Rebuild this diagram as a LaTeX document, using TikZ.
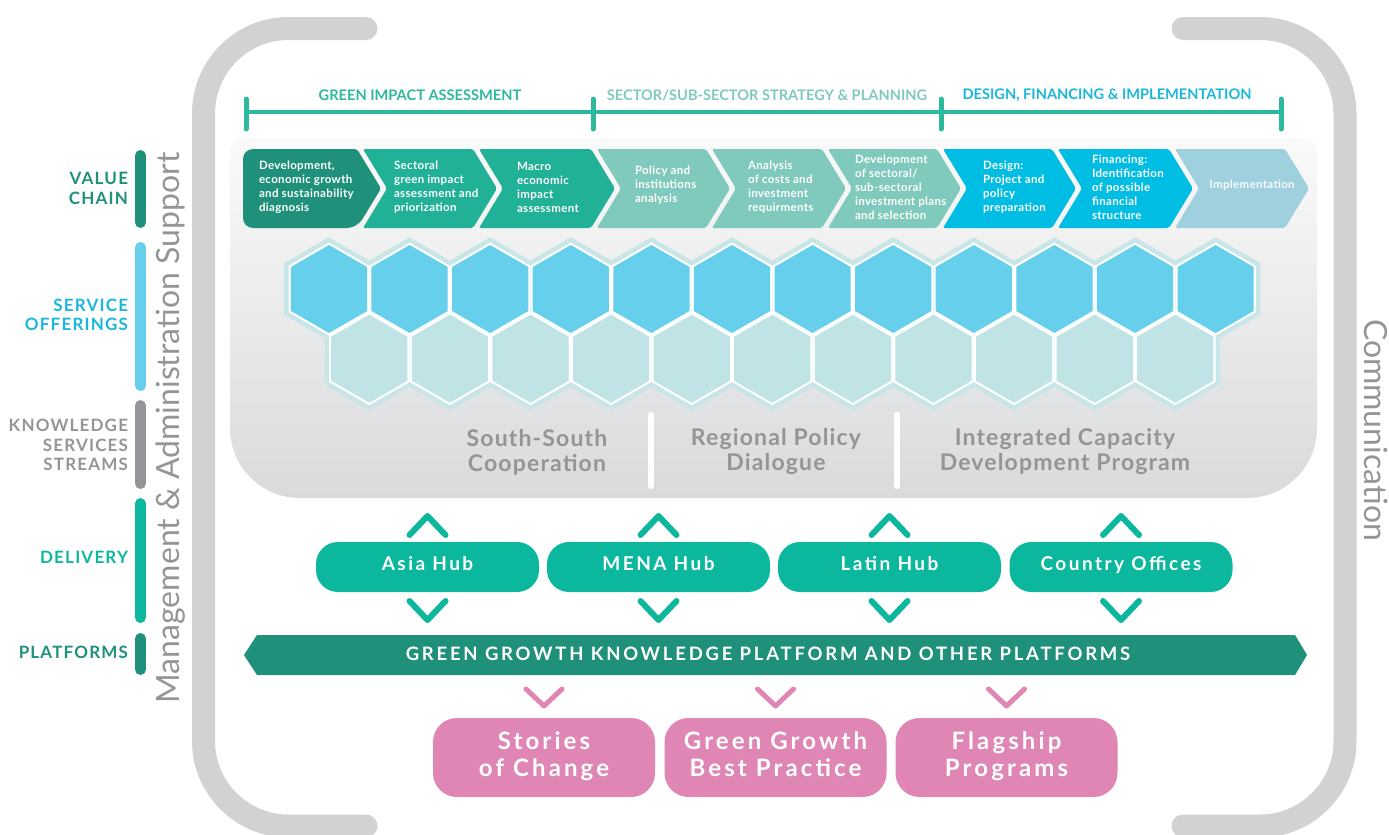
\documentclass[tikz,border=0pt]{standalone}
\usepackage{fontspec}
\setmainfont{Lato}
\usetikzlibrary{calc}

% palette
\definecolor{darkteal}{HTML}{1F917B}
\definecolor{teal}{HTML}{20B196}
\definecolor{phaseteal}{HTML}{2DB99D}
\definecolor{lightteal}{HTML}{80CABD}
\definecolor{cyan}{HTML}{00BDE3}
\definecolor{labelcyan}{HTML}{1AB7DB}
\definecolor{barcyan}{HTML}{66CFEC}
\definecolor{paleblue}{HTML}{9FD0DE}
\definecolor{hexcyan}{HTML}{66CFEC}
\definecolor{hexpale}{HTML}{C0E3E5}
\definecolor{hexhalo}{HTML}{C8E5E8}
\definecolor{delivery}{HTML}{0BB89D}
\definecolor{txtgray}{HTML}{939598}
\definecolor{bracketgray}{HTML}{D1D2D4}
\definecolor{pink}{HTML}{E086B4}
\definecolor{panelTop}{HTML}{FAFAFA}
\definecolor{panelBot}{HTML}{D9DADC}

\tikzset{
  every node/.style={inner sep=0pt, outer sep=0pt},
  bracket/.style={line width=23pt, color=bracketgray, line cap=round, rounded corners=85pt},
  sidelabel/.style={anchor=east, align=right,
    font=\bfseries\fontsize{17}{19.5}\selectfont\addfontfeature{LetterSpace=7}},
  sidebar/.style={line width=11pt, line cap=round},
  phaselabel/.style={font=\bfseries\fontsize{14.6}{17}\selectfont},
  chevtext/.style={anchor=west, align=left, text=white,
    font=\bfseries\fontsize{11.5}{14}\selectfont\addfontfeature{LetterSpace=3}},
  streamtext/.style={align=center, text=txtgray,
    font=\bfseries\fontsize{23}{25}\selectfont\addfontfeature{LetterSpace=5}},
  hubbox/.style={fill=delivery, text=white, rounded corners=22pt,
    minimum width=223pt, minimum height=50pt, text height=13pt, text depth=6pt,
    font=\bfseries\fontsize{19}{22}\selectfont\addfontfeature{LetterSpace=13}},
  outbox/.style={fill=pink, text=white, rounded corners=24pt, align=center,
    minimum width=222pt, minimum height=79pt,
    font=\bfseries\fontsize{24}{27}\selectfont\addfontfeature{LetterSpace=13}},
  caret/.style={line width=6pt, line cap=round, line join=round, color=delivery},
  pinkcaret/.style={line width=5pt, line cap=round, line join=round, color=pink},
  rotlabel/.style={text=txtgray, font=\fontsize{32}{36}\selectfont},
}

\begin{document}
\begin{tikzpicture}[x=1pt, y=-1pt]
\useasboundingbox (0,0) rectangle (1389,835);

% outer brackets
\draw[bracket] (366,28.5) -- (203.5,28.5) -- (203.5,826) -- (366,826);
\draw[bracket] (1183,28.5) -- (1345,28.5) -- (1345,826) -- (1183,826);

% rotated side captions
\node[rotlabel, rotate=90] (mgmt) at (171,428) {Management \& Administration Support};
\node[rotlabel, rotate=-90] (comm) at (1376,430) {Communication};

% row labels with their bars
\node[sidelabel, text=darkteal] (lvalue) at (128,188.5) {VALUE\\CHAIN};
\node[sidelabel, text=labelcyan] (lservice) at (128,315) {SERVICE\\OFFERINGS};
\node[sidelabel, text=txtgray] (lknow) at (128,445) {KNOWLEDGE\\SERVICES\\STREAMS};
\node[sidelabel, text=delivery] (ldeliv) at (128,557) {DELIVERY};
\node[sidelabel, text=darkteal] (lplat) at (128,652) {PLATFORMS};
\draw[sidebar, darkteal] (140.5,155.5) -- (140.5,222.5);
\draw[sidebar, barcyan] (140.5,247.5) -- (140.5,385.5);
\draw[sidebar, txtgray] (140.5,405.5) -- (140.5,483.5);
\draw[sidebar, delivery] (140.5,503.5) -- (140.5,617.5);
\draw[sidebar, darkteal] (140.5,638.5) -- (140.5,669.5);

% grey backdrop panel
\shade[top color=panelTop, bottom color=panelBot]
  (230,320) [rounded corners=70pt] -- (230,498) -- (1317,498) -- (1317,320)
  [rounded corners=14pt] -- (1317,138) -- (230,138) -- cycle;

% phase timeline
\draw[phaseteal, line width=3.5pt] (246,112) -- (1281,112);
\foreach \x in {246,593,941,1281}
  \draw[phaseteal, line width=5pt, line cap=round] (\x,99) -- (\x,129);
\node[phaselabel, text=phaseteal] (ph1) at (420,95) {GREEN IMPACT ASSESSMENT};
\node[phaselabel, text=lightteal] (ph2) at (767,95) {SECTOR/SUB-SECTOR STRATEGY \& PLANNING};
\node[phaselabel, text=labelcyan] (ph3) at (1107,95) {DESIGN, FINANCING \& IMPLEMENTATION};

% value chain chevrons
\fill[darkteal] [rounded corners=10pt] (357,149) -- (243,149) -- (243,228) -- (357,228)
  [rounded corners=2pt] -- (381,188.5) -- cycle;
\foreach \s/\r/\c in {363/473/teal, 479/591/teal, 597/706/lightteal, 712/822/lightteal,
                      828/937/lightteal, 943/1052/cyan, 1058/1169/cyan, 1175/1285/paleblue}
  \fill[\c, rounded corners=2pt] (\s,149) -- (\r,149) -- (\r+24,188.5) -- (\r,228)
    -- (\s,228) -- (\s+24,188.5) -- cycle;

\node[chevtext] (c1) at (259,187) {Development,\\economic growth\\and sustainability\\diagnosis};
\node[chevtext] (c2) at (394,187) {Sectoral\\green impact\\assessment and\\priorization};
\node[chevtext] (c3) at (517,187) {Macro\\economic\\impact\\assessment};
\node[chevtext] (c4) at (635,185) {Policy and\\institutions\\analysis};
\node[chevtext] (c5) at (748,187) {Analysis\\of costs and\\investment\\requirments};
\node[chevtext] (c6) at (855,187) {Development\\of sectoral/\\sub-sectoral\\investment plans\\and selection};
\node[chevtext] (c7) at (983,187) {Design:\\Project and\\policy\\preparation};
\node[chevtext] (c8) at (1092,187) {Financing:\\Identification\\of possible\\financial\\structure};
\node[chevtext, anchor=center, text=white!92!paleblue] (c9) at (1252,185) {Implementation};

% service offering honeycomb: halo, white gaps, coloured cells
\def\hexR{46.5}
\def\hexr{44}
\foreach \i in {0,...,11}
  \draw[hexhalo, line width=9pt, line join=miter] (329+\i*80.6,289)
    +(90:\hexR) -- +(150:\hexR) -- +(210:\hexR) -- +(270:\hexR) -- +(330:\hexR) -- +(30:\hexR) -- cycle;
\foreach \i in {0,...,10}
  \draw[hexhalo, line width=9pt, line join=miter] (369.3+\i*80.6,358.7)
    +(90:\hexR) -- +(150:\hexR) -- +(210:\hexR) -- +(270:\hexR) -- +(330:\hexR) -- +(30:\hexR) -- cycle;
\foreach \i in {0,...,11}
  \fill[white] (329+\i*80.6,289)
    +(90:\hexR) -- +(150:\hexR) -- +(210:\hexR) -- +(270:\hexR) -- +(330:\hexR) -- +(30:\hexR) -- cycle;
\foreach \i in {0,...,10}
  \fill[white] (369.3+\i*80.6,358.7)
    +(90:\hexR) -- +(150:\hexR) -- +(210:\hexR) -- +(270:\hexR) -- +(330:\hexR) -- +(30:\hexR) -- cycle;
\foreach \i in {0,...,11}
  \fill[hexcyan] (329+\i*80.6,289)
    +(90:\hexr) -- +(150:\hexr) -- +(210:\hexr) -- +(270:\hexr) -- +(330:\hexr) -- +(30:\hexr) -- cycle;
\foreach \i in {0,...,10}
  \fill[hexpale] (369.3+\i*80.6,358.7)
    +(90:\hexr) -- +(150:\hexr) -- +(210:\hexr) -- +(270:\hexr) -- +(330:\hexr) -- +(30:\hexr) -- cycle;

% knowledge service streams
\node[streamtext] (ssc) at (537,452) {South-South\\Cooperation};
\node[streamtext] (rpd) at (776,452) {Regional Policy\\Dialogue};
\node[streamtext] (icd) at (1065,452) {Integrated Capacity\\Development Program};
\draw[white, line width=6.5pt, line cap=round] (651,415) -- (651,486);
\draw[white, line width=6.5pt, line cap=round] (897,415) -- (897,486);

% delivery hubs
\node[hubbox] (asia) at (427.5,567) {Asia Hub};
\node[hubbox] (mena) at (658.5,567) {MENA Hub};
\node[hubbox] (latin) at (889.5,567) {Latin Hub};
\node[hubbox] (country) at (1121,567) {Country Offices};
\foreach \n in {asia,mena,latin,country} {
  \draw[caret] ($(\n.north)+(-18,-7)$) -- ++(18,-19) -- ++(18,19);
  \draw[caret] ($(\n.south)+(-18,9)$) -- ++(18,19) -- ++(18,-19);
}

% platform band
\fill[darkteal] (257,635) -- (1295,635) -- (1307,655) -- (1295,675) -- (257,675) -- (244,655) -- cycle;
\node[text=white, font=\bfseries\fontsize{18.5}{20}\selectfont\addfontfeature{LetterSpace=15}]
  (ggkp) at (768,654) {GREEN GROWTH KNOWLEDGE PLATFORM AND OTHER PLATFORMS};

% outputs
\node[outbox] (stories) at (544,757.5) {\strut Stories\\\strut of Change};
\node[outbox] (bestp) at (775.5,757.5) {\strut Green Growth\\\strut Best Practice};
\node[outbox] (flag) at (1006.5,757.5) {\strut Flagship\\\strut Programs};
\foreach \n in {stories,bestp,flag}
  \draw[pinkcaret] ($(\n.north)+(-18,-29)$) -- ++(18,17) -- ++(18,-17);

\end{tikzpicture}
\end{document}
